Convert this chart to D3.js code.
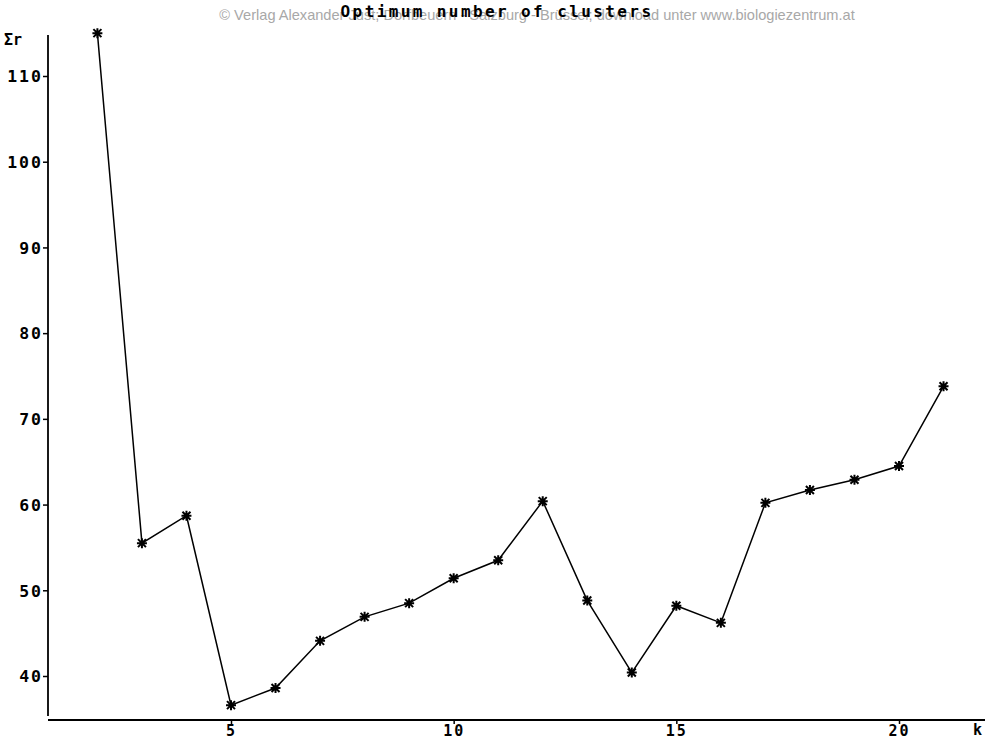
<!DOCTYPE html>
<html><head><meta charset="utf-8">
<script src="https://cdn.jsdelivr.net/npm/d3@7"></script>
<style>
html,body{margin:0;padding:0;background:#fff;}
svg{display:block;}
</style></head>
<body>
<svg id="c" width="985" height="740"></svg>
<script>
const kValues = [2,3,4,5,6,7,8,9,10,11,12,13,14,15,16,17,18,19,20,21];
const sumR = [115.0,55.5,58.7,36.6,38.6,44.1,46.9,48.5,51.4,53.5,60.4,48.8,40.4,48.2,46.2,60.2,61.7,62.9,64.5,73.8];
const xTicks = [5,10,15,20];
const yTicks = [40,50,60,70,80,90,100,110];
const title = "Optimum number of clusters";
const watermark = "© Verlag Alexander Just; Dorfbeuern - Salzburg - Brüssel; download unter www.biologiezentrum.at";

const svg = d3.select("#c");
const x = d3.scaleLinear().domain([5,20]).range([231,899]);
const y = d3.scaleLinear().domain([40,110]).range([676,76]);
const mono = "'DejaVu Sans Mono', 'Liberation Mono', monospace";

// watermark
svg.append("text").attr("x",537).attr("y",20).attr("text-anchor","middle")
  .attr("font-family","'Liberation Sans', Arial, sans-serif").attr("font-size",14.6)
  .attr("fill","#a8a8a8").text(watermark);
// title
svg.append("text").attr("x",497).attr("y",17).attr("text-anchor","middle")
  .attr("font-family",mono).attr("font-weight","bold").attr("font-size",16)
  .attr("letter-spacing",2.4).attr("fill","#000").text(title);

// axes
const yAxis = d3.axisLeft(y).tickValues(yTicks).tickSize(5).tickPadding(3).tickFormat(d3.format("d"));
const gy = svg.append("g").attr("transform","translate(48,0)").call(yAxis);
gy.select(".domain").attr("d","M0,35V716").attr("stroke","#000").attr("stroke-width",1.8);
gy.selectAll(".tick line").attr("stroke","#000").attr("stroke-width",1.5);
gy.selectAll(".tick text").attr("font-family",mono).attr("font-weight","bold")
  .attr("font-size",16.5).attr("letter-spacing",2).attr("fill","#000").attr("x",-5).attr("dy","0.35em");

const xAxis = d3.axisBottom(x).tickValues(xTicks).tickSize(4).tickPadding(2).tickFormat(d3.format("d"));
const gx = svg.append("g").attr("transform","translate(0,720)").call(xAxis);
gx.select(".domain").attr("d","M48,0H985").attr("stroke","#000").attr("stroke-width",2);
gx.selectAll(".tick line").attr("stroke","#000").attr("stroke-width",1.5);
gx.selectAll(".tick text").attr("font-family",mono).attr("font-weight","bold")
  .attr("font-size",15).attr("letter-spacing",2).attr("fill","#000")
  .attr("y",16).attr("dy",0);

// axis labels
svg.append("text").attr("x",4).attr("y",45).attr("font-family",mono).attr("font-weight","bold")
  .attr("font-size",15).attr("fill","#000").text("Σr");
svg.append("text").attr("x",973).attr("y",735).attr("font-family",mono).attr("font-weight","bold")
  .attr("font-size",15).attr("fill","#000").text("k");

// line
const pts = kValues.map((k,i)=>[k,sumR[i]]);
svg.append("path").datum(pts)
  .attr("d", d3.line().x(d=>x(d[0])).y(d=>y(d[1])))
  .attr("fill","none").attr("stroke","#000").attr("stroke-width",1.5);

// star markers
const star = "M-5,0H5M0,-5V5M-4,-4L4,4M-4,4L4,-4";
svg.append("g").selectAll("path").data(pts).join("path")
  .attr("transform", d=>`translate(${x(d[0])},${y(d[1])})`)
  .attr("d", star).attr("stroke","#000").attr("stroke-width",2).attr("fill","none");
</script>
</body></html>
